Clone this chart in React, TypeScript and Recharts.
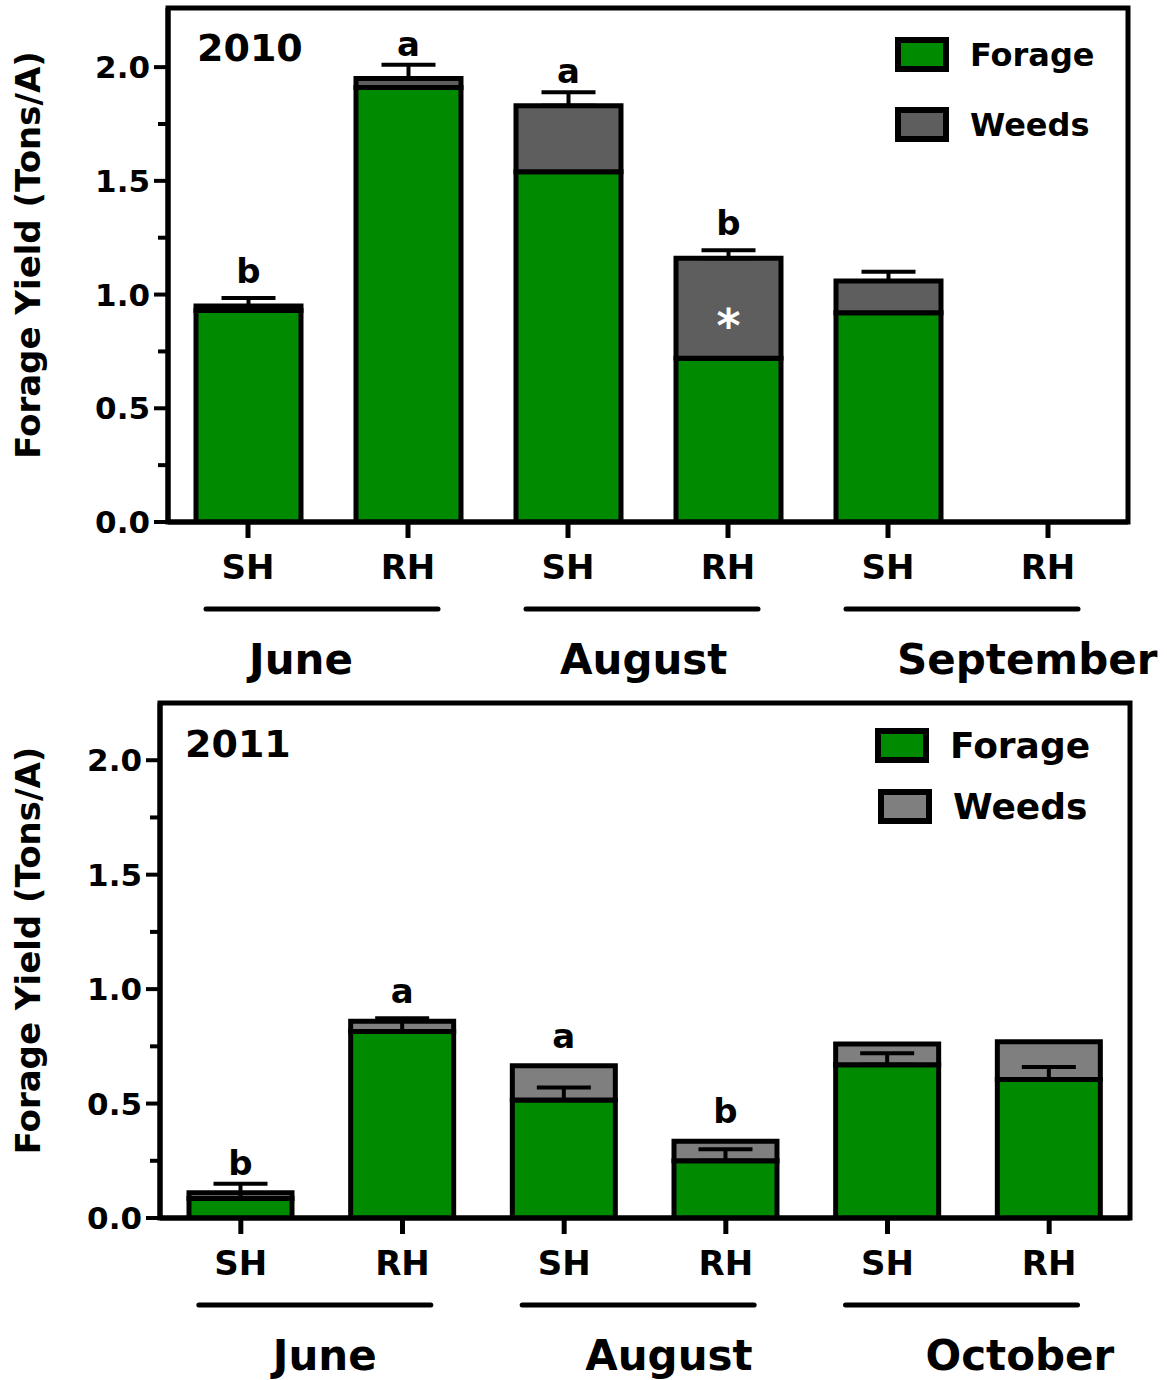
import React from 'react';
import { BarChart, Bar, XAxis, YAxis, ErrorBar, LabelList, Legend, ReferenceArea } from 'recharts';

const FONT = '"DejaVu Sans", "Liberation Sans", Arial, sans-serif';
const GREEN = '#008a00';

const TREATMENTS = ['SH', 'RH', 'SH', 'RH', 'SH', 'RH'];
const Y_TICKS = [0, 0.25, 0.5, 0.75, 1, 1.25, 1.5, 1.75, 2];

// 2010 harvests
const MONTHS_2010 = ['June', 'June', 'August', 'August', 'September', 'September'];
const FORAGE_2010 = [0.93, 1.91, 1.54, 0.72, 0.92, null];
const WEEDS_2010 = [0.02, 0.04, 0.29, 0.44, 0.14, null];
const SE_2010 = [0.035, 0.06, 0.06, 0.035, 0.04, null];
const LETTERS_2010 = ['b', 'a', 'a', 'b', '', ''];
const MARKS_2010 = ['', '', '', '*', '', ''];

// 2011 harvests
const MONTHS_2011 = ['June', 'June', 'August', 'August', 'October', 'October'];
const FORAGE_2011 = [0.085, 0.815, 0.515, 0.25, 0.67, 0.605];
const WEEDS_2011 = [0.025, 0.045, 0.15, 0.085, 0.09, 0.165];
const SE_2011 = [0.065, 0.058, 0.055, 0.05, 0.05, 0.055];
const LETTERS_2011 = ['b', 'a', 'a', 'b', '', ''];
const MARKS_2011 = ['', '', '', '', '', ''];

type PanelCfg = {
  year: string;
  months: string[];
  forage: (number | null)[];
  weeds: (number | null)[];
  se: (number | null)[];
  letters: string[];
  marks: string[];
  errorOn: 'forage' | 'weeds';
  weedColor: string;
  left: number;
  right: number;
  top: number;
  bottom: number;
  max: number;
  barSize: number;
  letterOffset: number;
  monthDx: number[];
  titleDx: number;
  titleDy: number;
  legend: { left: number; top: number; gap: number; fontSize: number; shift: number[] };
};

const P2010: PanelCfg = {
  year: '2010',
  months: MONTHS_2010,
  forage: FORAGE_2010,
  weeds: WEEDS_2010,
  se: SE_2010,
  letters: LETTERS_2010,
  marks: MARKS_2010,
  errorOn: 'weeds',
  weedColor: '#5e5e5e',
  left: 168,
  right: 1128,
  top: 8,
  bottom: 522,
  max: 2.26,
  barSize: 105,
  letterOffset: 23,
  monthDx: [1, -8, 9],
  titleDx: 29,
  titleDy: 53,
  legend: { left: 895, top: 37, gap: 35, fontSize: 32, shift: [0, 0] },
};

const P2011: PanelCfg = {
  year: '2011',
  months: MONTHS_2011,
  forage: FORAGE_2011,
  weeds: WEEDS_2011,
  se: SE_2011,
  letters: LETTERS_2011,
  marks: MARKS_2011,
  errorOn: 'forage',
  weedColor: '#7f7f7f',
  left: 160,
  right: 1130,
  top: 13,
  bottom: 528,
  max: 2.25,
  barSize: 103,
  letterOffset: 18,
  monthDx: [32, 21, 38],
  titleDx: 25,
  titleDy: 54,
  legend: { left: 875, top: 38, gap: 26, fontSize: 36, shift: [0, 3] },
};

const textStyle = { fontFamily: FONT, fontWeight: 'bold' as const };

function Panel({ cfg }: { cfg: PanelCfg }) {
  const data = TREATMENTS.map((t, i) => ({
    id: `${cfg.months[i]}-${t}-${i}`,
    forage: cfg.forage[i],
    weeds: cfg.weeds[i],
    se: cfg.se[i],
    letter: cfg.letters[i],
    mark: cfg.marks[i],
  }));

  const series = [
    { key: 'forage', name: 'Forage', color: GREEN },
    { key: 'weeds', name: 'Weeds', color: cfg.weedColor },
  ];

  // error bars only point upward
  const errKey = (d: any) => {
    const p = d && d.payload ? d.payload : d;
    return [0, p && p.se != null ? p.se : 0];
  };

  const renderXTick = (p: any) => {
    const i = p.index;
    const x = p.x;
    const axisY = p.y - 18;
    return (
      <g>
        <text x={x} y={axisY + 57} textAnchor="middle" fontSize={34} fill="#000" style={textStyle}>
          {TREATMENTS[i]}
        </text>
        {i % 2 === 0 && (
          <g>
            <line x1={x - 42} x2={x + 190} y1={axisY + 87} y2={axisY + 87} stroke="#000" strokeWidth={5} strokeLinecap="round" />
            <text x={x + cfg.monthDx[i / 2]} y={axisY + 152} textAnchor="start" fontSize={42} fill="#000" style={textStyle}>
              {cfg.months[i]}
            </text>
          </g>
        )}
      </g>
    );
  };

  const renderYTick = (p: any) => {
    const v = p.payload.value;
    const major = Math.abs(v * 2 - Math.round(v * 2)) < 1e-6;
    return (
      <g>
        <line x1={p.x - (major ? 14 : 10)} x2={p.x} y1={p.y} y2={p.y} stroke="#000" strokeWidth={4} />
        {major && (
          <text x={p.x - 18} y={p.y} dy="0.36em" textAnchor="end" fontSize={31} fill="#000" style={textStyle}>
            {v.toFixed(1)}
          </text>
        )}
      </g>
    );
  };

  const yLabel = (p: any) => {
    const vb = p.viewBox || {};
    const cx = 28;
    const cy = vb.y + vb.height / 2 - 10;
    return (
      <text x={cx} y={cy} transform={`rotate(-90, ${cx}, ${cy})`} textAnchor="middle" dominantBaseline="central" fontSize={34} fill="#000" style={textStyle}>
        Forage Yield (Tons/A)
      </text>
    );
  };

  const title = (p: any) => {
    const vb = p.viewBox || {};
    return (
      <text x={vb.x + cfg.titleDx} y={vb.y + cfg.titleDy} fontSize={38} fill="#000" style={textStyle}>
        {cfg.year}
      </text>
    );
  };

  const letterContent = (p: any) => {
    if (!p.value) return null;
    const vb = p.viewBox || p;
    return (
      <text x={vb.x + vb.width / 2} y={vb.y - cfg.letterOffset} textAnchor="middle" fontSize={34} fill="#000" style={textStyle}>
        {p.value}
      </text>
    );
  };

  const markContent = (p: any) => {
    if (!p.value) return null;
    const vb = p.viewBox || p;
    return (
      <text x={vb.x + vb.width / 2} y={vb.y + vb.height / 2 + 34} textAnchor="middle" fontSize={46} fill="#fff" style={textStyle}>
        {p.value}
      </text>
    );
  };

  const renderLegend = () => (
    <div style={{ fontFamily: FONT, fontWeight: 'bold', fontSize: cfg.legend.fontSize, color: '#000' }}>
      {series.map((s, i) => (
        <div key={s.key} style={{ display: 'flex', alignItems: 'center', height: 35, marginBottom: cfg.legend.gap, marginLeft: cfg.legend.shift[i] }}>
          <div style={{ width: 42, height: 23, border: '6px solid #000', background: s.color, marginRight: 21 }} />
          <span style={{ lineHeight: 1 }}>{s.name}</span>
        </div>
      ))}
    </div>
  );

  const err = (
    <ErrorBar dataKey={errKey} width={27} stroke="#000" strokeWidth={4} direction="y" />
  );

  return (
    <BarChart
      width={1167}
      height={690}
      data={data}
      margin={{ top: cfg.top, right: 1167 - cfg.right, left: 0, bottom: 0 }}
    >
      <XAxis
        dataKey="id"
        height={690 - cfg.bottom}
        interval={0}
        tickSize={16}
        tickMargin={2}
        axisLine={{ stroke: '#000', strokeWidth: 5 }}
        tickLine={{ stroke: '#000', strokeWidth: 5 }}
        tick={renderXTick}
      />
      <YAxis
        type="number"
        scale="linear"
        domain={[0, cfg.max]}
        allowDataOverflow
        ticks={Y_TICKS}
        interval={0}
        width={cfg.left}
        tickSize={0}
        tickMargin={0}
        tickLine={false}
        axisLine={{ stroke: '#000', strokeWidth: 5 }}
        tick={renderYTick}
        label={{ content: yLabel }}
      />
      <ReferenceArea
        y1={0}
        y2={cfg.max}
        fill="none"
        fillOpacity={0}
        stroke="#000"
        strokeWidth={5}
        ifOverflow="visible"
        label={{ content: title }}
      />
      <Legend
        layout="horizontal"
        align="center"
        verticalAlign="middle"
        wrapperStyle={{ left: cfg.legend.left, top: cfg.legend.top, width: 'auto', height: 'auto' }}
        content={renderLegend}
      />
      <Bar dataKey="forage" name="Forage" stackId="s" fill={GREEN} stroke="#000" strokeWidth={5} barSize={cfg.barSize} isAnimationActive={false}>
        {cfg.errorOn === 'forage' ? err : null}
      </Bar>
      <Bar dataKey="weeds" name="Weeds" stackId="s" fill={cfg.weedColor} stroke="#000" strokeWidth={5} barSize={cfg.barSize} isAnimationActive={false}>
        {cfg.errorOn === 'weeds' ? err : null}
        <LabelList dataKey="letter" content={letterContent} />
        <LabelList dataKey="mark" content={markContent} />
      </Bar>
    </BarChart>
  );
}

export default function App() {
  return (
    <div style={{ position: 'absolute', left: 0, top: 0, width: 1167, height: 1380, background: '#fff' }}>
      <div style={{ position: 'absolute', left: 0, top: 0 }}>
        <Panel cfg={P2010} />
      </div>
      <div style={{ position: 'absolute', left: 0, top: 690 }}>
        <Panel cfg={P2011} />
      </div>
    </div>
  );
}
